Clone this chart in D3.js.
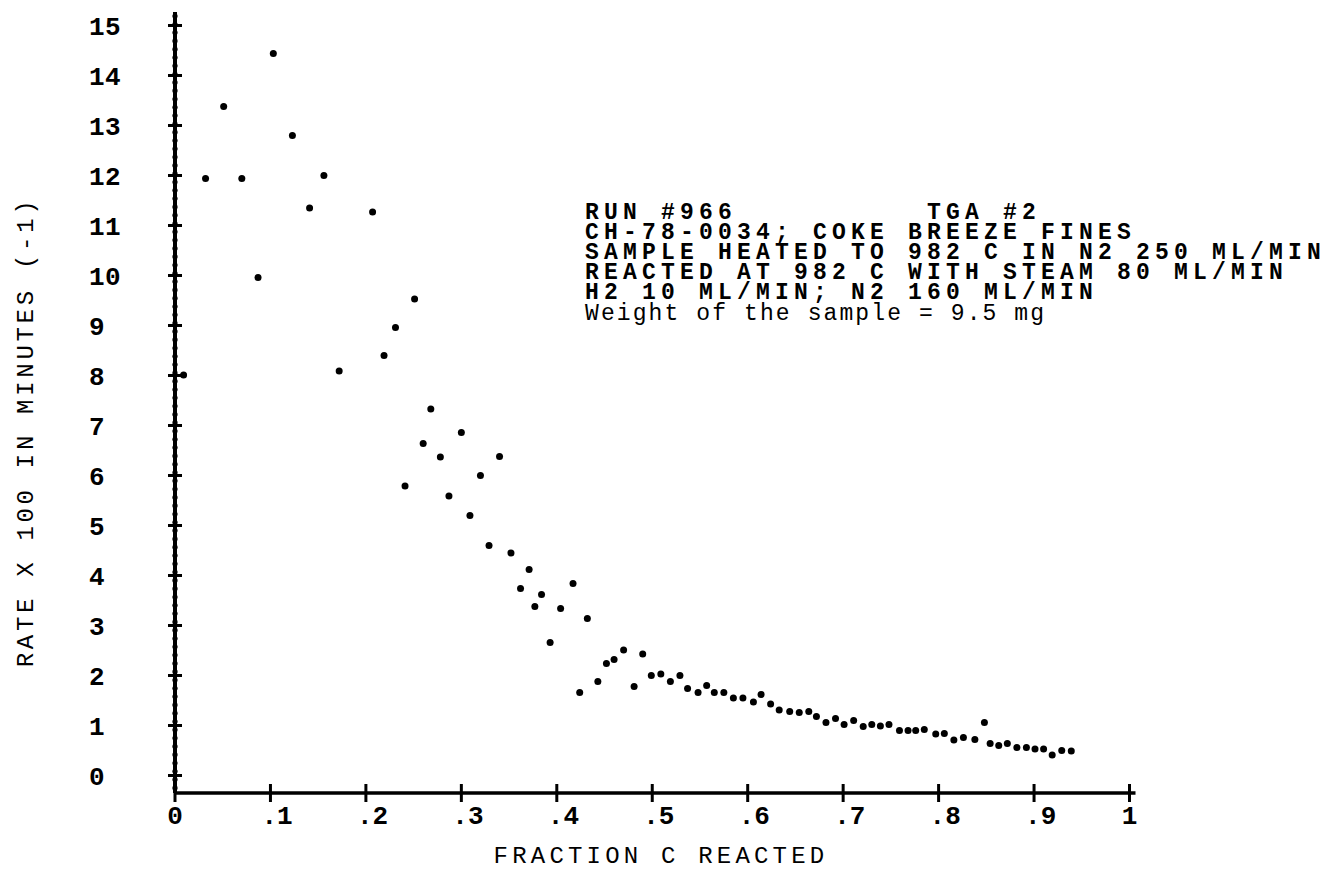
<!DOCTYPE html>
<html>
<head>
<meta charset="utf-8">
<script src="https://cdn.jsdelivr.net/npm/d3@7"></script>
<style>
  body { margin: 0; background: #fff; }
  svg text { font-family: "Liberation Mono", "DejaVu Sans Mono", monospace; fill: #000; }
</style>
</head>
<body>
<div id="chart"></div>
<script>
// data
const fraction = [0.009, 0.032, 0.051, 0.070, 0.087, 0.103, 0.123, 0.141, 0.156, 0.172,
  0.207, 0.219, 0.231, 0.241, 0.251, 0.260, 0.268, 0.278, 0.287, 0.300,
  0.309, 0.320, 0.329, 0.340, 0.352, 0.362, 0.371, 0.377, 0.384, 0.393,
  0.404, 0.417, 0.424, 0.432, 0.443, 0.452, 0.460, 0.470, 0.481, 0.490,
  0.499, 0.509, 0.519, 0.529, 0.537, 0.548, 0.557, 0.565, 0.575, 0.585,
  0.595, 0.606, 0.614, 0.624, 0.633, 0.644, 0.654, 0.664, 0.672, 0.682,
  0.692, 0.701, 0.711, 0.721, 0.730, 0.739, 0.748, 0.759, 0.768, 0.776,
  0.785, 0.797, 0.806, 0.816, 0.826, 0.838, 0.848, 0.854, 0.863, 0.872,
  0.882, 0.892, 0.901, 0.910, 0.919, 0.929, 0.939];
const rate = [8.01, 11.94, 13.38, 11.94, 9.96, 14.44, 12.80, 11.35, 12.00, 8.09,
  11.27, 8.40, 8.96, 5.79, 9.53, 6.64, 7.33, 6.37, 5.59, 6.86,
  5.20, 6.00, 4.60, 6.38, 4.45, 3.74, 4.12, 3.38, 3.62, 2.66,
  3.34, 3.84, 1.66, 3.14, 1.88, 2.24, 2.32, 2.51, 1.78, 2.43,
  2.00, 2.03, 1.88, 2.00, 1.74, 1.66, 1.80, 1.66, 1.66, 1.55,
  1.55, 1.47, 1.62, 1.43, 1.31, 1.28, 1.26, 1.28, 1.18, 1.06,
  1.14, 1.02, 1.10, 0.98, 1.02, 0.99, 1.02, 0.90, 0.90, 0.90,
  0.92, 0.83, 0.84, 0.71, 0.76, 0.72, 1.06, 0.64, 0.60, 0.64,
  0.56, 0.56, 0.53, 0.53, 0.41, 0.50, 0.49];

const xTicks = [0, 0.1, 0.2, 0.3, 0.4, 0.5, 0.6, 0.7, 0.8, 0.9, 1];
const xTickLabels = ["0", ".1", ".2", ".3", ".4", ".5", ".6", ".7", ".8", ".9", "1"];
const yTicks = d3.range(0, 16);

const noteLines = [
  "RUN #966          TGA #2",
  "CH-78-0034; COKE BREEZE FINES",
  "SAMPLE HEATED TO 982 C IN N2 250 ML/MIN",
  "REACTED AT 982 C WITH STEAM 80 ML/MIN",
  "H2 10 ML/MIN; N2 160 ML/MIN"
];
const weightNote = "Weight of the sample = 9.5 mg";

const W = 1332, H = 871;

const svg = d3.select("#chart").append("svg")
  .attr("width", W)
  .attr("height", H);

const x = d3.scaleLinear().domain([0, 1]).range([175, 1129.5]);
const y = d3.scaleLinear().domain([0, 15]).range([775.5, 25.5]);

const axisY0 = 793;   // x axis sits a bit below zero
const axisTop = 12;

// y axis: heavy typewritten line of overlapping dots
const yAx = svg.append("g").attr("transform", `translate(${x(0)},0)`);
yAx.append("line")
  .attr("y1", axisTop).attr("y2", axisY0)
  .attr("stroke", "#000").attr("stroke-width", 4);
yAx.selectAll("circle.bead")
  .data(d3.range(axisTop + 4, axisY0, 8.3))
  .enter().append("circle")
  .attr("class", "bead")
  .attr("cy", d => d).attr("r", 2.6).attr("fill", "#000");
yAx.selectAll("line.tick")
  .data(yTicks)
  .enter().append("line")
  .attr("class", "tick")
  .attr("x1", -7).attr("x2", 7)
  .attr("y1", d => y(d)).attr("y2", d => y(d))
  .attr("stroke", "#000").attr("stroke-width", 3);
svg.append("g").selectAll("text")
  .data(yTicks)
  .enter().append("text")
  .attr("x", 89)
  .attr("y", d => y(d) + 9)
  .attr("font-size", 26)
  .attr("font-weight", "bold")
  .attr("letter-spacing", 0.5)
  .text(d => d);

// x axis
const xAx = svg.append("g").attr("transform", `translate(0,${axisY0})`);
xAx.append("line")
  .attr("x1", x(0)).attr("x2", x(1) + 6)
  .attr("stroke", "#000").attr("stroke-width", 3.5);
xAx.selectAll("line.tick")
  .data(xTicks)
  .enter().append("line")
  .attr("class", "tick")
  .attr("x1", d => x(d)).attr("x2", d => x(d))
  .attr("y1", -9).attr("y2", 9)
  .attr("stroke", "#000").attr("stroke-width", 3);
xAx.selectAll("text")
  .data(xTicks)
  .enter().append("text")
  .attr("x", (d, i) => xTickLabels[i].startsWith(".") ? x(d) - 9 : x(d))
  .attr("y", 31)
  .attr("text-anchor", (d, i) => xTickLabels[i].startsWith(".") ? "start" : "middle")
  .attr("font-size", 26)
  .attr("font-weight", "bold")
  .text((d, i) => xTickLabels[i]);

// axis titles
svg.append("text")
  .attr("x", 661).attr("y", 863)
  .attr("text-anchor", "middle")
  .attr("font-size", 24)
  .attr("letter-spacing", 4.2)
  .text("FRACTION C REACTED");

svg.append("text")
  .attr("transform", "translate(33,432) rotate(-90)")
  .attr("text-anchor", "middle")
  .attr("font-size", 24)
  .attr("letter-spacing", 3.7)
  .text("RATE X 100 IN MINUTES (-1)");

// points
svg.append("g").selectAll("circle")
  .data(fraction.map((f, i) => [f, rate[i]]))
  .enter().append("circle")
  .attr("cx", d => x(d[0]))
  .attr("cy", d => y(d[1]))
  .attr("r", 3.5)
  .attr("fill", "#000");

// run notes
const note = svg.append("g").attr("transform", "translate(585,0)");
note.selectAll("text.line")
  .data(noteLines)
  .enter().append("text")
  .attr("class", "line")
  .attr("x", 0)
  .attr("y", (d, i) => 219 + i * 20)
  .attr("font-size", 23)
  .attr("font-weight", "bold")
  .attr("letter-spacing", 5.2)
  .style("white-space", "pre")
  .text(d => d);
note.append("text")
  .attr("x", 0)
  .attr("y", 320)
  .attr("font-size", 23)
  .attr("letter-spacing", 2.1)
  .style("white-space", "pre")
  .text(weightNote);
</script>
</body>
</html>
